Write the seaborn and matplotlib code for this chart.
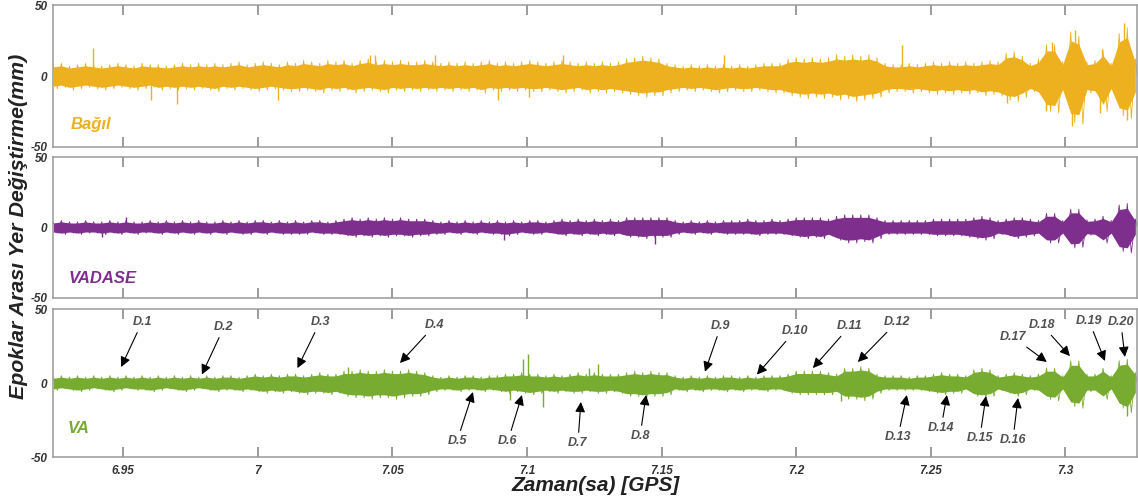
import numpy as np
import matplotlib
matplotlib.use("Agg")
import matplotlib.pyplot as plt
import seaborn as sns

# ---------------------------------------------------------------------------
# Epoch-to-epoch displacement envelopes (mm), sampled every 0.003 h
# ---------------------------------------------------------------------------
knot_start = 6.924
knot_step = 0.003
knot_count = 135

bagil_upper = [
    8, 9, 7, 8, 9, 8, 7, 8, 9, 8, 7, 9, 8, 8, 7,
    8, 9, 8, 9, 8, 9, 8, 9, 10, 8, 9, 10, 9, 8, 10,
    9, 11, 10, 9, 11, 10, 11, 9, 11, 12, 10, 11, 10, 11, 10,
    10, 11, 10, 9, 10, 9, 10, 9, 10, 11, 9, 10, 9, 10, 11,
    10, 9, 10, 11, 10, 9, 10, 9, 10, 9, 10, 12, 13, 14, 13,
    12, 9, 8, 7, 8, 7, 8, 7, 8, 7, 8, 7, 8, 9, 9,
    9, 12, 13, 12, 13, 12, 13, 15, 14, 15, 14, 15, 13, 9, 8,
    8, 9, 8, 9, 10, 9, 10, 9, 10, 9, 10, 11, 10, 16, 17,
    14, 9, 12, 22, 22, 10, 31, 28, 10, 11, 18, 9, 30, 34, 12,
]
bagil_lower = [
    -9, -8, -10, -9, -8, -9, -10, -9, -8, -9, -10, -9, -8, -10, -9,
    -10, -9, -10, -9, -10, -11, -9, -10, -9, -10, -11, -10, -9, -10, -11,
    -11, -10, -11, -12, -10, -11, -10, -12, -11, -10, -11, -12, -10, -11, -10,
    -11, -10, -11, -10, -11, -10, -11, -10, -12, -10, -11, -10, -11, -10, -11,
    -11, -10, -11, -12, -11, -10, -12, -11, -12, -11, -12, -13, -14, -15, -14,
    -14, -12, -11, -10, -11, -10, -11, -12, -11, -10, -11, -11, -10, -11, -12,
    -12, -14, -15, -16, -15, -16, -15, -17, -16, -18, -17, -16, -15, -12, -11,
    -11, -12, -11, -12, -13, -12, -13, -12, -13, -12, -14, -13, -14, -17, -18,
    -15, -11, -14, -25, -26, -12, -33, -34, -12, -13, -25, -11, -28, -30, -14,
]
bagil_spike_t = [6.9387, 6.9602, 6.9699, 7.0075, 7.0416, 7.0435, 7.0658, 7.0892,
                 7.1007, 7.1132, 7.1732, 7.2393, 7.2783, 7.2950, 7.2928, 7.3035,
                 7.3024, 7.3136, 7.3128, 7.3217, 7.3228]
bagil_spike_v = [20, -17, -20, -17, 15, 15, 15, -17, -15, 15, 14.6, 22, -19,
                 23.6, -25, 32.7, -35, 19, -26, 37, -31]

vadase_upper = [
    4, 5, 4, 4, 5, 4, 4, 5, 4, 5, 4, 4, 5, 4, 5,
    4, 5, 4, 5, 4, 4, 5, 4, 5, 4, 5, 5, 4, 5, 4,
    5, 4, 5, 5, 4, 5, 6, 7, 6, 7, 6, 7, 6, 7, 6,
    6, 6, 5, 4, 5, 4, 5, 4, 5, 4, 5, 4, 5, 4, 5,
    5, 4, 5, 6, 5, 6, 5, 6, 5, 6, 5, 7, 7, 7, 7,
    7, 7, 5, 4, 5, 4, 5, 4, 5, 5, 5, 6, 5, 5, 6,
    5, 6, 7, 7, 7, 7, 6, 8, 9, 9, 9, 9, 7, 5, 5,
    5, 5, 5, 5, 6, 6, 6, 6, 6, 7, 8, 7, 5, 6, 7,
    7, 6, 5, 10, 10, 5, 13, 13, 5.5, 6, 8, 5, 16, 17, 6,
]
vadase_lower = [
    -4, -5, -4, -5, -4, -4, -5, -4, -5, -4, -5, -4, -4, -5, -4,
    -5, -4, -5, -4, -5, -4, -5, -4, -5, -5, -4, -5, -4, -5, -5,
    -5, -5, -4, -5, -5, -5, -6, -7, -6, -7, -6, -7, -6, -6, -7,
    -6, -6, -5, -5, -4, -5, -4, -5, -4, -5, -5, -6, -5, -4, -5,
    -5, -4, -5, -6, -5, -6, -5, -6, -5, -6, -5, -7, -7, -8, -7,
    -7, -7, -5, -4, -5, -4, -5, -4, -5, -5, -5, -5, -6, -5, -5,
    -5, -6, -7, -8, -7, -8, -6, -9, -11, -11, -10, -11, -8, -5, -5,
    -5, -5, -5, -5, -6, -6, -6, -6, -7, -8, -9, -8, -5, -6, -8,
    -7, -6, -5, -11, -11, -5, -14.5, -14, -5.5, -6, -11, -5, -17, -18, -6,
]
vadase_spike_t = [6.9421, 6.9510, 7.0914, 7.1475]
vadase_spike_v = [-6.5, 7.8, -9, -11.5]

va_upper = [
    4, 5, 4, 5, 4, 5, 4, 5, 4, 5, 4, 5, 4, 5, 4,
    5, 4, 5, 4, 5, 4, 5, 5, 4, 5, 6, 5, 6, 5, 6,
    6, 5, 6, 7, 6, 6, 8, 8, 9, 8, 8, 9, 8, 8, 9,
    8, 7, 5, 4, 5, 4, 5, 5, 4, 5, 5, 6, 6, 7, 6,
    6, 5, 6, 5, 6, 7, 6, 7, 6, 6, 6, 7, 8, 7, 8,
    7, 7, 5, 4, 5, 4, 5, 4, 5, 5, 4, 5, 4, 5, 5,
    5, 6, 8, 8, 8, 8, 7, 6, 10, 10, 11, 10, 6, 5, 5,
    5, 4, 5, 5, 6, 7, 6, 6, 5, 9, 10, 9, 5, 6, 7,
    6, 5, 6, 10, 10, 5, 15, 15, 6, 6, 10, 5, 15, 16, 7,
]
va_lower = [
    -5, -4, -5, -6, -5, -4, -5, -6, -5, -4, -5, -5, -6, -5, -4,
    -5, -6, -5, -4, -5, -6, -5, -5, -6, -5, -6, -7, -6, -7, -6,
    -7, -8, -7, -7, -8, -7, -9, -10, -10, -11, -10, -10, -11, -10, -9,
    -9, -8, -6, -5, -5, -6, -5, -5, -6, -5, -6, -7, -6, -7, -8,
    -7, -6, -7, -6, -7, -7, -6, -7, -7, -6, -7, -9, -9, -10, -9,
    -9, -8, -5, -6, -5, -6, -5, -5, -6, -5, -6, -5, -5, -6, -5,
    -5, -7, -8, -8, -8, -8, -8, -7, -11, -11, -12, -11, -7, -5, -5,
    -5, -5, -5, -6, -7, -8, -7, -7, -5, -9, -10, -9, -5, -7, -9,
    -8, -5, -6, -11, -12, -5, -16, -17, -6, -6, -11, -5, -17, -20, -8,
]
va_spike_t = [7.0335, 7.0937, 7.0985, 7.1003, 7.1059, 7.1230, 7.1263, 7.2166, 7.3228]
va_spike_v = [10.5, -11.7, 16.4, 19.5, -16.4, 10, 13, -12, -22]

# Event markers on the VA panel
event_labels = [f"D.{i}" for i in range(1, 21)]
event_text_x = [6.9570, 6.9874, 7.0231, 7.0658, 7.0740, 7.0929, 7.1189, 7.1420,
                7.1720, 7.1995, 7.2200, 7.2374, 7.2378, 7.2538, 7.2682, 7.2805,
                7.2805, 7.2913, 7.3088, 7.3206]
event_text_y = [41.2, 37.8, 41.2, 39.2, -39.2, -39.2, -40.5, -35.8, 38.5, 35.1,
                38.5, 41.2, -36.5, -30.4, -37.2, -38.5, 31.1, 39.2, 41.9, 41.2]
event_head_x = [6.9492, 6.9792, 7.0147, 7.0528, 7.0799, 7.0981, 7.1200, 7.1442,
                7.1661, 7.1854, 7.2062, 7.2229, 7.2411, 7.2560, 7.2705, 7.2824,
                7.2931, 7.3017, 7.3147, 7.3221]
event_head_y = [10.8, 5.7, 10.1, 13.5, -6.1, -8.1, -12.8, -8.1, 7.6, 5.7, 10.1,
                14.2, -8.1, -8.1, -8.8, -10.1, 14.2, 18.2, 14.9, 17.6]

x_ticks = [6.95, 7.0, 7.05, 7.1, 7.15, 7.2, 7.25, 7.3]
x_tick_labels = ["6.95", "7", "7.05", "7.1", "7.15", "7.2", "7.25", "7.3"]
y_ticks = [-50, 0, 50]
y_tick_labels = ["-50", "0", "50"]

series_names = ["Bağıl", "VADASE", "VA"]
series_colors = ["#EDB120", "#7E2F8E", "#77AC30"]

# ---------------------------------------------------------------------------
sns.set_style("white")
plt.rcParams["font.family"] = ["Liberation Sans", "DejaVu Sans"]

knot_t = np.round(knot_start + knot_step * np.arange(knot_count), 4)

fig = plt.figure(figsize=(11.38, 5.01), dpi=100)
left, width = 0.0466, 0.9525
ax_top = fig.add_axes([left, 0.7066, width, 0.2834])
ax_mid = fig.add_axes([left, 0.4052, width, 0.2814])
ax_bot = fig.add_axes([left, 0.0878, width, 0.2954])
axes = [ax_top, ax_mid, ax_bot]

uppers = [bagil_upper, vadase_upper, va_upper]
lowers = [bagil_lower, vadase_lower, va_lower]
spikes_t = [bagil_spike_t, vadase_spike_t, va_spike_t]
spikes_v = [bagil_spike_v, vadase_spike_v, va_spike_v]
name_pos = [(0.016, 0.155), (0.014, 0.14), (0.013, 0.196)]

tick_font = dict(fontsize=8.5, fontweight="bold", fontstyle="italic", color="#333333")

for i, ax in enumerate(axes):
    color = series_colors[i]
    up = np.asarray(uppers[i], dtype=float)
    lo = np.asarray(lowers[i], dtype=float)

    # dense core of the oscillation
    ax.fill_between(knot_t, lo * 0.8, up * 0.8, color=color, lw=0)
    # oscillation swinging out to the envelope on every sample
    zig_t = np.empty(2 * knot_count)
    zig_v = np.empty(2 * knot_count)
    zig_t[0::2] = knot_t
    zig_t[1::2] = knot_t + knot_step / 2
    zig_v[0::2] = up
    zig_v[1::2] = lo
    sns.lineplot(x=zig_t, y=zig_v, ax=ax, color=color, lw=0.6,
                 sort=False, estimator=None)
    # isolated peaks
    ax.vlines(spikes_t[i], 0, spikes_v[i], color=color, lw=1.0)

    ax.set_xlim(6.9239, 7.3266)
    ax.set_ylim(-50, 50)
    ax.set_xticks(x_ticks)
    ax.set_yticks(y_ticks)
    ax.set_yticklabels(y_tick_labels, **tick_font)
    if i == 2:
        ax.set_xticklabels(x_tick_labels, **tick_font)
    else:
        ax.set_xticklabels([])
    ax.tick_params(axis="x", direction="in", length=7, width=1.1,
                   color="#808080", top=True, bottom=True, pad=6)
    ax.tick_params(axis="y", length=0, pad=4)
    ax.set_xlabel("")
    ax.set_ylabel("")
    for sp in ax.spines.values():
        sp.set_visible(True)
        sp.set_color("#999999")
        sp.set_linewidth(1.1)

    ax.text(name_pos[i][0], name_pos[i][1], series_names[i], transform=ax.transAxes,
            fontsize=12, fontweight="bold", fontstyle="italic", color=color,
            ha="left", va="center")

for lbl, tx, ty, hx, hy in zip(event_labels, event_text_x, event_text_y,
                               event_head_x, event_head_y):
    ax_bot.annotate(lbl, xy=(hx, hy), xytext=(tx, ty), ha="center", va="center",
                    fontsize=9, fontweight="bold", fontstyle="italic", color="#505050",
                    arrowprops=dict(arrowstyle="-|>", color="black", lw=0.8,
                                    mutation_scale=15, shrinkA=1, shrinkB=0))

fig.text(0.016, 0.548, "Epoklar Arası Yer Değiştirme(mm)", rotation=90,
         fontsize=15.4, fontweight="bold", fontstyle="italic", color="#222222",
         ha="center", va="center")
fig.text(0.523, 0.03, "Zaman(sa) [GPS]", fontsize=15, fontweight="bold",
         fontstyle="italic", color="#222222", ha="center", va="center")

fig.savefig("out.png", dpi=100)
